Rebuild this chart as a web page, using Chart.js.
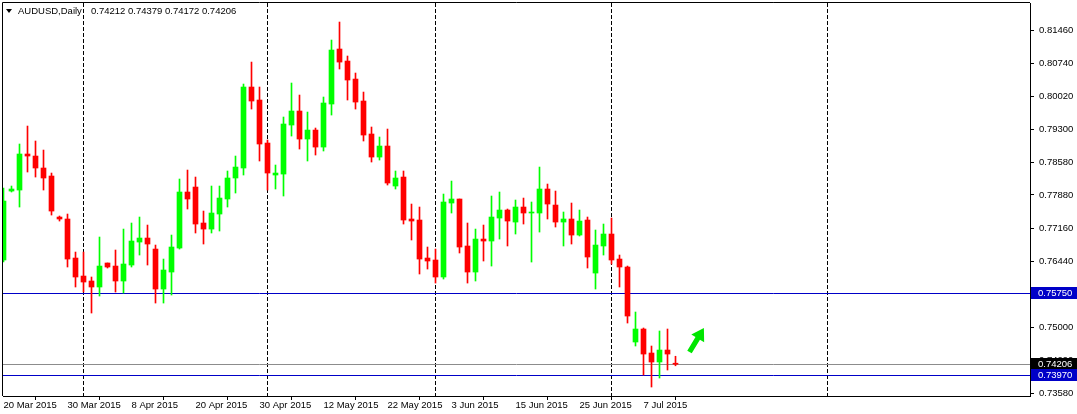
<!DOCTYPE html>
<html>
<head>
<meta charset="utf-8">
<script src="https://cdn.jsdelivr.net/npm/chart.js@4.4.1/dist/chart.umd.min.js"></script>
<style>
  html, body { margin: 0; padding: 0; background: #fff; }
</style>
</head>
<body>
<canvas id="chart" width="1077" height="414"></canvas>
<script>
// AUDUSD daily bars, one per trading day from 20 Mar 2015
const opens = [
  0.76468, 0.77965, 0.77987, 0.78769, 0.78725, 0.78465, 0.78291, 0.77401, 0.77358, 0.76511,
  0.76120, 0.76012, 0.75882, 0.76403, 0.76337, 0.76012, 0.76359, 0.76858, 0.76945, 0.76706,
  0.75838, 0.76207, 0.76728, 0.77944, 0.78052, 0.77271, 0.77140, 0.77466, 0.77792, 0.78248,
  0.78465, 0.80223, 0.79941, 0.79007, 0.78313, 0.78334, 0.79398, 0.79702, 0.79094, 0.79289,
  0.78920, 0.79854, 0.81048, 0.80787, 0.80396, 0.79919, 0.79203, 0.78703, 0.78942, 0.78074,
  0.78269, 0.77358, 0.77336, 0.76511, 0.76468, 0.76099, 0.77705, 0.77792, 0.76772, 0.76207,
  0.76923, 0.76880, 0.77379, 0.77553, 0.77292, 0.77618, 0.77488, 0.77488, 0.78009, 0.77661,
  0.77292, 0.77358, 0.77010, 0.77336, 0.76185, 0.76772, 0.77032, 0.76489, 0.76316, 0.74688,
  0.74970, 0.74449, 0.74254, 0.74514, 0.74212
];
const highs = [
  0.78031, 0.78074, 0.78986, 0.79376, 0.79051, 0.78855, 0.78356, 0.77423, 0.77466, 0.76641,
  0.76641, 0.76099, 0.76967, 0.76403, 0.76685, 0.77140, 0.77271, 0.77401, 0.77227, 0.76793,
  0.76489, 0.77010, 0.78226, 0.78421, 0.78269, 0.77531, 0.78074, 0.78074, 0.78400, 0.78725,
  0.80288, 0.80765, 0.80223, 0.79072, 0.78530, 0.79572, 0.80310, 0.80049, 0.79680, 0.79333,
  0.80006, 0.81243, 0.81634, 0.80896, 0.80527, 0.80114, 0.79355, 0.79138, 0.79311, 0.78400,
  0.78400, 0.77683, 0.77618, 0.76750, 0.76706, 0.77900, 0.78182, 0.77792, 0.77271, 0.77140,
  0.77227, 0.77857, 0.77944, 0.77575, 0.77770, 0.77813, 0.77727, 0.78486, 0.78117, 0.77965,
  0.77510, 0.77705, 0.77553, 0.77401, 0.77119, 0.77249, 0.77379, 0.76576, 0.76337, 0.75339,
  0.74992, 0.74601, 0.74927, 0.74970, 0.74379
];
const lows = [
  0.76424, 0.77944, 0.77618, 0.78378, 0.78269, 0.77987, 0.77444, 0.77314, 0.76316, 0.75882,
  0.75773, 0.75317, 0.75686, 0.76294, 0.75773, 0.75751, 0.76316, 0.76576, 0.76359, 0.75534,
  0.75534, 0.75708, 0.76706, 0.77575, 0.77054, 0.76815, 0.77054, 0.77097, 0.77618, 0.77922,
  0.78313, 0.79745, 0.78617, 0.77987, 0.78009, 0.77857, 0.79159, 0.78877, 0.78617, 0.78747,
  0.78834, 0.79615, 0.80614, 0.79941, 0.79745, 0.79051, 0.78595, 0.78638, 0.78096, 0.78009,
  0.77249, 0.76902, 0.76164, 0.76272, 0.75968, 0.76055, 0.77488, 0.76620, 0.75968, 0.76012,
  0.76446, 0.76337, 0.76923, 0.76772, 0.77032, 0.77249, 0.76424, 0.77075, 0.77358, 0.77184,
  0.76772, 0.76815, 0.76989, 0.76294, 0.75838, 0.76576, 0.76381, 0.75882, 0.75100, 0.74601,
  0.73971, 0.73711, 0.73906, 0.74080, 0.74172
];
const closes = [
  0.77748, 0.78009, 0.78769, 0.78725, 0.78465, 0.78248, 0.77531, 0.77358, 0.76489, 0.76099,
  0.75990, 0.75882, 0.76337, 0.76316, 0.76012, 0.76381, 0.76880, 0.76945, 0.76815, 0.75838,
  0.76251, 0.76750, 0.77944, 0.77792, 0.77249, 0.77140, 0.77488, 0.77813, 0.78248, 0.78486,
  0.80223, 0.79919, 0.78986, 0.78356, 0.78356, 0.79420, 0.79702, 0.79094, 0.79289, 0.78920,
  0.79876, 0.81026, 0.80765, 0.80375, 0.79897, 0.79181, 0.78703, 0.78942, 0.78139, 0.78248,
  0.77336, 0.77314, 0.76489, 0.76446, 0.76099, 0.77727, 0.77792, 0.76750, 0.76207, 0.76923,
  0.76880, 0.77401, 0.77553, 0.77314, 0.77618, 0.77488, 0.77510, 0.78009, 0.77683, 0.77292,
  0.77358, 0.77010, 0.77314, 0.76533, 0.76793, 0.77032, 0.76468, 0.76316, 0.75252, 0.74970,
  0.74427, 0.74254, 0.74514, 0.74427, 0.74206
];

// one date label every 8 bars
const dateLabels = ['20 Mar 2015', '30 Mar 2015', '8 Apr 2015', '20 Apr 2015', '30 Apr 2015',
  '12 May 2015', '22 May 2015', '3 Jun 2015', '15 Jun 2015', '25 Jun 2015', '7 Jul 2015'];
const priceTicks = [0.81460, 0.80740, 0.80020, 0.79300, 0.78580, 0.77880, 0.77160, 0.76440,
  0.75720, 0.75000, 0.74290, 0.73580];
const monthStarts = [10, 33, 54, 76, 103];   // bar index of 1 Apr, 1 May, 1 Jun, 1 Jul, 1 Aug
const levelPrices = [0.75750, 0.74206, 0.73970];
const arrowTip = { bar: 87.55, price: 0.74992 };

const FONT = 'Liberation Sans';
const fmt = v => v.toFixed(5);

const candleColors = opens.map((o, i) => closes[i] >= o ? '#00ff00' : '#ff0000');
const bodies = opens.map((o, i) => ({ x: i, y: [o, closes[i]] }));
const wicks = lows.map((l, i) => ({ x: i, y: [l, highs[i]] }));

const mt4 = {
  id: 'mt4',
  beforeDatasetsDraw(chart) {
    const { ctx, chartArea: a, scales: { x, y } } = chart;
    ctx.save();
    ctx.beginPath();
    ctx.rect(a.left, a.top, a.right - a.left, a.bottom - a.top);
    ctx.clip();
    ctx.lineWidth = 1;

    ctx.strokeStyle = '#000';
    ctx.setLineDash([4, 2]);
    monthStarts.forEach(i => {
      const px = Math.floor(x.getPixelForValue(i)) + 0.5;
      ctx.beginPath();
      ctx.moveTo(px, a.top);
      ctx.lineTo(px, a.bottom);
      ctx.stroke();
    });

    ctx.setLineDash([]);
    const lineColors = ['#0000c8', '#8c8c8c', '#0000c8'];
    levelPrices.forEach((p, k) => {
      const py = Math.round(y.getPixelForValue(p)) + 0.5;
      ctx.strokeStyle = lineColors[k];
      ctx.beginPath();
      ctx.moveTo(a.left, py);
      ctx.lineTo(a.right, py);
      ctx.stroke();
    });
    ctx.restore();
  },
  afterDraw(chart) {
    const { ctx, chartArea: a, scales: { x, y } } = chart;
    ctx.save();

    // top and left edges of the frame
    ctx.strokeStyle = '#000';
    ctx.lineWidth = 1;
    ctx.beginPath();
    ctx.moveTo(a.left - 0.5, a.bottom);
    ctx.lineTo(a.left - 0.5, a.top - 0.5);
    ctx.lineTo(a.right, a.top - 0.5);
    ctx.stroke();

    // price boxes on the axis
    const boxColors = ['#0000c8', '#000000', '#0000c8'];
    ctx.font = '9.5px "' + FONT + '"';
    ctx.textBaseline = 'middle';
    ctx.textAlign = 'left';
    levelPrices.forEach((p, k) => {
      const py = Math.round(y.getPixelForValue(p));
      ctx.fillStyle = boxColors[k];
      ctx.fillRect(a.right + 1, py - 6, chart.width - a.right - 1, 12);
      ctx.fillStyle = '#fff';
      ctx.fillText(fmt(p), a.right + 8, py + 0.5);
    });

    // header
    const last = opens.length - 1;
    ctx.fillStyle = '#000';
    ctx.beginPath();
    ctx.moveTo(6, 9);
    ctx.lineTo(12, 9);
    ctx.lineTo(9, 13);
    ctx.closePath();
    ctx.fill();
    ctx.fillText('AUDUSD,Daily', 18, 11);
    ctx.fillText([opens[last], highs[last], lows[last], closes[last]].map(fmt).join(' '), 91, 11);

    // green arrow object
    const tx = x.getPixelForValue(arrowTip.bar);
    const ty = y.getPixelForValue(arrowTip.price);
    const ang = Math.atan2(-25, 15);
    const ux = Math.cos(ang), uy = Math.sin(ang);
    const vx = -uy, vy = ux;
    const shape = [[0, 0], [12, 7.5], [12, 2.6], [28, 2.6], [28, -2.6], [12, -2.6], [12, -7.5]];
    ctx.fillStyle = '#00e600';
    ctx.beginPath();
    shape.forEach(([b, s], k) => {
      const px = tx - ux * b + vx * s;
      const py = ty - uy * b + vy * s;
      if (k === 0) ctx.moveTo(px, py); else ctx.lineTo(px, py);
    });
    ctx.closePath();
    ctx.fill();
    ctx.restore();
  }
};

const X_MIN = -0.0625;
new Chart(document.getElementById('chart'), {
  type: 'bar',
  data: {
    datasets: [
      { data: bodies, backgroundColor: candleColors, barThickness: 5, minBarLength: 1, grouped: false, borderWidth: 0 },
      { data: wicks, backgroundColor: candleColors, barThickness: 1, grouped: false, borderWidth: 0 }
    ]
  },
  options: {
    responsive: false,
    animation: false,
    layout: { padding: { top: 3, left: 3 } },
    plugins: { legend: { display: false }, tooltip: { enabled: false } },
    scales: {
      x: {
        type: 'linear',
        offset: false,
        min: X_MIN,
        max: X_MIN + 1027 / 8,
        afterBuildTicks: s => { s.ticks = dateLabels.map((d, k) => ({ value: k * 8 })); },
        afterFit: s => { s.height = 18; s.paddingLeft = 0; s.paddingRight = 0; },
        grid: { drawOnChartArea: false, color: '#000', tickLength: 4 },
        border: { display: true, color: '#000' },
        ticks: {
          align: 'start',
          padding: 0,
          maxRotation: 0,
          autoSkip: false,
          color: '#000',
          font: { family: FONT, size: 9.5 },
          callback: v => dateLabels[Math.round(v / 8)]
        }
      },
      y: {
        position: 'right',
        min: 0.73516,
        max: 0.82047,
        afterBuildTicks: s => { s.ticks = priceTicks.map(v => ({ value: v })); },
        afterFit: s => { s.width = 47; s.paddingTop = 0; s.paddingBottom = 0; },
        grid: { drawOnChartArea: false, color: '#000', tickLength: 4 },
        border: { display: true, color: '#000' },
        ticks: {
          padding: 5,
          autoSkip: false,
          color: '#000',
          font: { family: FONT, size: 9.5 },
          callback: v => fmt(v)
        }
      }
    }
  },
  plugins: [mt4]
});
</script>
</body>
</html>
